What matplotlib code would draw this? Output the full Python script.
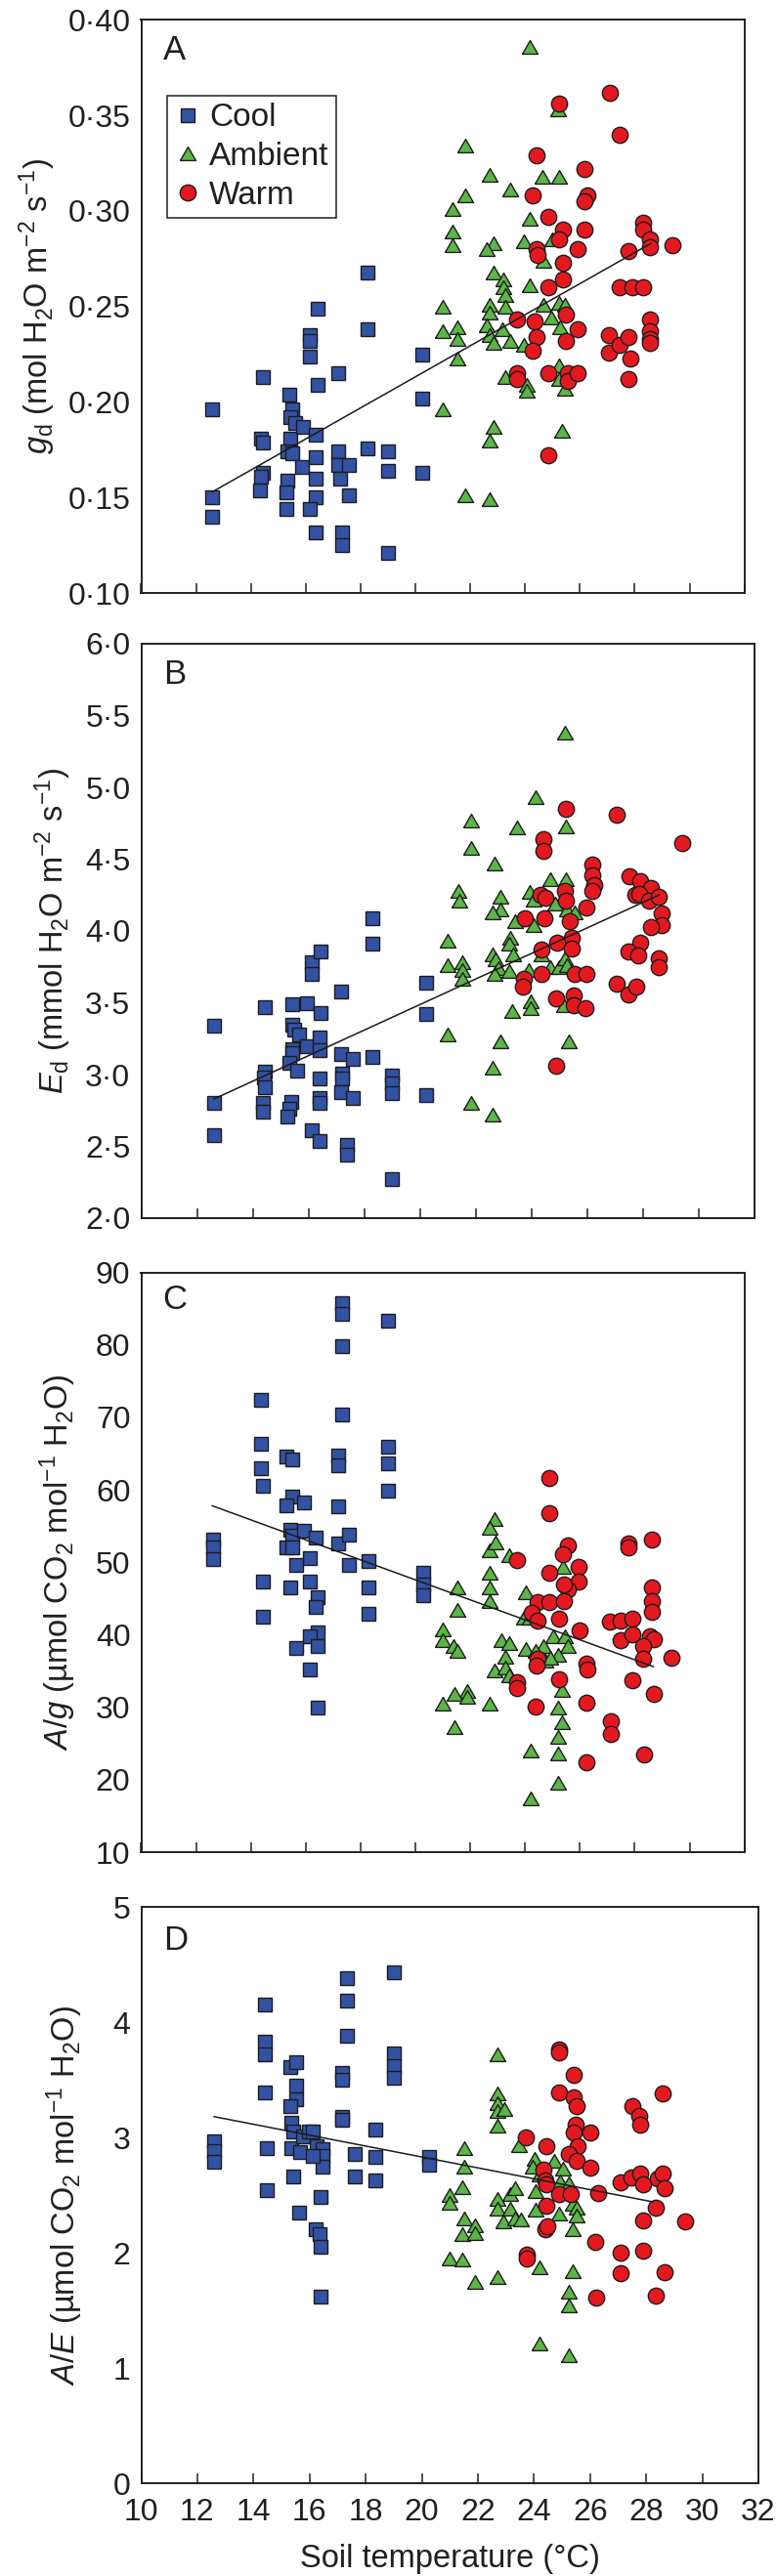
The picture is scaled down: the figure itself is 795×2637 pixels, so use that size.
import matplotlib
matplotlib.use('Agg')
import matplotlib.pyplot as plt
from matplotlib.lines import Line2D
from matplotlib.ticker import FixedLocator, FixedFormatter

plt.rcParams['font.family'] = ['Liberation Sans', 'DejaVu Sans']
plt.rcParams['mathtext.fontset'] = 'custom'
plt.rcParams['mathtext.rm'] = 'Liberation Sans'
plt.rcParams['mathtext.it'] = 'Liberation Sans:italic'
plt.rcParams['mathtext.bf'] = 'Liberation Sans:bold'

# ---------------- data (soil temperature, value) ----------------
a_cool = [(12.59,0.196),(12.59,0.150),(12.59,0.140),(14.43,0.213),(14.38,0.181),(14.43,0.179),(14.43,0.163),(14.38,0.161),(14.34,0.154),
          (15.39,0.204),(15.52,0.196),(15.43,0.192),(15.62,0.189),(15.43,0.181),(15.33,0.174),(15.52,0.173),(15.33,0.159),(15.28,0.153),(15.30,0.144),
          (15.91,0.187),(15.88,0.166),(16.37,0.183),(16.15,0.235),(16.15,0.232),(16.15,0.224),(16.42,0.249),(16.42,0.209),(16.37,0.171),(16.37,0.160),
          (16.37,0.150),(16.15,0.144),(16.37,0.132),(17.18,0.215),(17.18,0.174),(17.18,0.167),(17.27,0.160),(17.56,0.167),(17.56,0.151),(17.32,0.132),
          (17.32,0.125),(18.26,0.268),(18.26,0.238),(18.26,0.176),(19.00,0.174),(19.00,0.164),(19.00,0.121),(20.24,0.225),(20.24,0.202),(20.24,0.163)]
a_amb = [(24.16,0.386),(25.19,0.353),(21.81,0.334),(22.69,0.319),(24.65,0.318),(25.23,0.318),(21.81,0.308),(23.47,0.311),(21.34,0.301),(24.16,0.296),
         (21.34,0.289),(21.34,0.282),(23.96,0.284),(22.84,0.283),(22.60,0.280),(25.00,0.285),(24.68,0.274),(22.84,0.268),(23.20,0.264),(23.20,0.260),
         (24.16,0.261),(23.29,0.256),(23.29,0.250),(22.69,0.251),(22.69,0.247),(20.98,0.250),(24.68,0.251),(25.23,0.252),(25.46,0.251),(24.95,0.244),
         (21.52,0.239),(20.98,0.237),(21.52,0.233),(22.60,0.240),(23.16,0.238),(22.69,0.235),(22.84,0.231),(23.47,0.232),(23.96,0.230),(25.28,0.239),
         (21.52,0.223),(23.29,0.213),(25.23,0.219),(25.23,0.212),(24.07,0.209),(24.07,0.206),(25.46,0.207),(20.98,0.196),(22.84,0.187),(22.69,0.180),
         (25.33,0.185),(21.81,0.151),(22.69,0.149)]
a_warm = [(27.09,0.362),(25.23,0.356),(27.45,0.340),(24.41,0.329),(26.15,0.322),(24.29,0.308),(26.27,0.308),(26.15,0.305),(24.86,0.297),(25.37,0.290),
          (26.15,0.290),(28.32,0.294),(28.32,0.290),(28.57,0.285),(28.57,0.281),(29.39,0.282),(25.23,0.285),(24.41,0.280),(24.47,0.277),(25.91,0.280),
          (27.78,0.279),(25.37,0.273),(25.37,0.264),(24.86,0.260),(27.45,0.260),(27.90,0.260),(28.32,0.260),(23.71,0.243),(24.34,0.242),(25.50,0.246),
          (25.91,0.238),(24.41,0.234),(25.50,0.232),(24.29,0.227),(27.05,0.235),(27.05,0.226),(27.45,0.230),(27.78,0.234),(27.85,0.223),(28.57,0.243),
          (28.57,0.237),(28.57,0.233),(28.57,0.231),(23.71,0.215),(23.71,0.212),(24.86,0.215),(25.55,0.215),(25.55,0.211),(25.91,0.215),(27.78,0.212),
          (24.86,0.172)]
a_fit = [(12.59,0.153),(28.59,0.283)]

b_cool = [(12.61,3.34),(12.61,2.80),(12.61,2.58),(14.44,3.47),(14.44,3.02),(14.40,2.98),(14.44,2.91),(14.35,2.80),(14.35,2.74),(15.42,3.49),
          (15.42,3.35),(15.50,3.31),(15.65,3.28),(15.42,3.18),(15.42,3.15),(15.30,3.08),(15.60,3.03),(15.38,2.81),(15.30,2.76),(15.25,2.71),
          (15.95,3.50),(15.95,3.20),(16.13,3.78),(16.13,3.70),(16.45,3.86),(16.45,3.43),(16.40,3.26),(16.40,3.17),(16.40,2.97),(16.40,2.84),
          (16.40,2.80),(16.13,2.61),(16.40,2.54),(17.16,3.58),(17.16,3.14),(17.20,3.01),(17.20,2.97),(17.16,2.88),(17.59,3.11),(17.59,2.84),
          (17.38,2.51),(17.38,2.44),(18.30,4.09),(18.30,3.91),(18.30,3.12),(19.00,2.99),(19.00,2.94),(19.00,2.87),(19.00,2.27),(20.22,3.64),
          (20.22,3.42),(20.22,2.86)]
b_amb = [(25.20,5.38),(24.13,4.93),(21.85,4.77),(23.47,4.72),(25.23,4.73),(21.85,4.58),(22.67,4.47),(21.37,4.28),(21.42,4.21),(22.88,4.24),
         (22.88,4.15),(22.62,4.13),(24.66,4.36),(25.23,4.36),(23.95,4.27),(24.09,4.22),(24.84,4.19),(25.28,4.15),(25.55,4.13),(24.09,4.04),
         (23.42,4.07),(23.24,3.95),(23.19,3.91),(23.33,3.84),(20.98,3.93),(20.98,3.76),(21.52,3.78),(21.52,3.73),(21.52,3.67),(22.62,3.84),
         (22.71,3.80),(22.80,3.74),(22.67,3.70),(23.20,3.72),(23.91,3.73),(24.36,3.84),(24.66,3.75),(24.98,3.75),(25.20,3.81),(25.28,3.76),
         (23.98,3.51),(23.98,3.46),(23.29,3.44),(25.16,3.48),(20.98,3.28),(22.88,3.23),(25.34,3.23),(22.62,3.05),(21.82,2.80),(22.62,2.72)]
b_warm = [(25.25,4.85),(27.06,4.81),(29.42,4.61),(24.43,4.64),(24.43,4.56),(26.17,4.46),(26.17,4.39),(26.26,4.32),(26.17,4.28),(27.50,4.38),
          (27.91,4.35),(28.30,4.30),(27.74,4.25),(27.87,4.26),(28.22,4.21),(28.57,4.24),(28.66,4.12),(28.66,4.04),(28.30,4.03),(24.31,4.25),
          (24.48,4.23),(25.20,4.28),(25.25,4.21),(25.96,4.16),(23.77,4.09),(24.45,4.09),(25.37,4.07),(25.46,3.95),(24.93,3.92),(24.34,3.87),
          (25.46,3.88),(27.91,3.92),(27.47,3.86),(27.82,3.83),(28.57,3.81),(28.57,3.75),(23.74,3.67),(23.69,3.61),(24.34,3.70),(25.55,3.70),
          (25.96,3.70),(27.06,3.63),(27.47,3.56),(27.77,3.61),(24.89,3.53),(25.51,3.55),(25.51,3.48),(25.94,3.46),(24.89,3.06)]
b_fit = [(12.61,2.83),(28.57,4.25)]

c_cool = [(12.62,53.1),(12.62,52.0),(12.62,50.4),(14.38,72.4),(14.38,66.3),(14.38,63.0),(14.43,60.5),(14.43,47.3),(14.43,42.5),(15.28,64.6),
          (15.52,64.2),(15.52,59.1),(15.93,58.2),(15.30,57.8),(15.42,54.5),(15.52,53.7),(15.93,54.3),(16.15,50.6),(15.30,52.0),(15.52,52.0),
          (16.36,53.4),(15.66,49.7),(15.42,46.5),(16.15,47.4),(16.42,45.2),(16.36,43.9),(16.42,40.4),(16.15,39.8),(16.42,38.4),(15.64,38.2),
          (16.15,35.2),(16.42,30.0),(17.32,85.7),(17.32,84.3),(17.32,79.8),(17.32,70.4),(17.18,64.8),(17.18,63.4),(17.18,57.7),(17.18,52.6),
          (17.56,53.8),(17.56,49.6),(18.28,50.2),(18.28,46.6),(18.28,42.9),(19.00,83.3),(19.00,65.9),(19.00,63.6),(19.00,59.9),(20.27,48.5),
          (20.27,46.9),(20.27,45.5)]
c_amb = [(22.88,56.0),(22.69,54.8),(22.69,51.7),(22.91,52.7),(23.42,51.0),(22.69,48.6),(22.69,46.6),(22.69,44.6),(21.52,46.5),(21.52,43.4),
         (24.01,45.9),(25.37,49.4),(23.96,42.3),(24.16,42.3),(20.98,40.8),(20.98,39.2),(21.39,38.4),(21.52,37.8),(25.01,39.8),(25.46,39.8),
         (23.15,39.2),(23.42,38.8),(24.68,38.4),(25.55,38.4),(24.01,38.1),(24.38,37.8),(25.19,37.2),(23.29,37.0),(24.74,36.4),(24.92,36.8),
         (22.88,35.1),(23.29,35.5),(23.43,34.4),(25.33,32.4),(21.88,32.2),(21.43,31.8),(21.88,31.4),(20.98,30.5),(22.69,30.5),(21.43,27.3),
         (25.22,29.9),(25.33,27.9),(25.22,25.9),(25.22,23.6),(24.20,24.0),(25.22,19.6),(24.20,17.4)]
c_warm = [(24.88,61.6),(24.88,56.8),(23.71,50.3),(25.55,52.3),(25.37,51.1),(27.78,52.6),(27.78,52.1),(28.63,53.1),(24.88,48.5),(25.95,49.3),
          (25.95,47.4),(25.55,46.3),(25.40,46.9),(28.63,46.5),(28.63,44.6),(28.63,43.2),(24.47,44.5),(24.88,44.5),(25.40,44.6),(24.25,43.0),
          (25.24,42.2),(24.47,41.9),(27.09,41.8),(27.50,41.9),(27.90,42.2),(27.50,39.2),(27.90,40.1),(28.57,39.8),(28.68,39.4),(25.97,40.6),
          (28.32,38.4),(28.32,36.7),(29.35,36.8),(24.47,36.7),(24.43,35.8),(26.24,36.0),(26.27,35.2),(23.71,33.5),(23.71,32.7),(25.24,33.8),
          (27.90,33.7),(28.68,31.8),(24.38,30.1),(26.24,30.6),(27.12,28.0),(27.12,26.3),(28.35,23.5),(26.24,22.4)]
c_fit = [(12.59,57.8),(28.68,35.6)]

d_cool = [(12.60,2.97),(12.60,2.88),(12.60,2.79),(14.42,4.15),(14.42,3.83),(14.42,3.72),(14.42,3.39),(14.46,2.91),(14.46,2.54),(15.30,3.61),
          (15.53,3.65),(15.53,3.45),(15.53,3.33),(15.30,3.27),(15.34,3.13),(15.42,3.05),(15.34,2.91),(15.65,2.87),(15.78,3.01),(15.43,2.66),
          (15.62,2.35),(15.96,3.05),(16.13,3.05),(16.24,2.92),(16.45,2.90),(16.45,2.84),(16.45,2.75),(16.13,2.84),(16.22,2.20),(16.36,2.16),
          (16.41,2.48),(16.41,2.05),(16.41,1.62),(17.16,3.56),(17.16,3.50),(17.16,3.18),(17.16,3.15),(17.33,4.38),(17.33,4.19),(17.33,3.88),
          (17.60,2.86),(17.60,2.66),(18.34,3.07),(18.34,2.83),(18.34,2.63),(19.01,4.43),(19.01,3.73),(19.01,3.62),(19.01,3.52),(20.25,2.83),
          (20.25,2.76)]
d_amb = [(22.69,3.72),(22.69,3.38),(22.69,3.30),(22.69,3.23),(22.69,3.10),(22.95,3.25),(21.52,2.91),(21.52,2.75),(21.43,2.57),(21.00,2.50),
         (21.00,2.43),(21.52,2.30),(21.45,2.16),(21.88,2.24),(21.88,2.17),(21.00,1.95),(21.45,1.94),(21.88,1.75),(22.69,2.47),(22.69,2.38),
         (22.90,2.27),(23.16,2.51),(23.34,2.56),(23.16,2.38),(23.34,2.30),(23.52,2.29),(23.48,2.93),(24.01,2.81),(23.96,2.75),(24.05,2.53),
         (24.05,2.37),(24.19,2.68),(24.72,2.80),(25.02,2.73),(24.93,2.62),(25.25,2.60),(24.90,2.34),(25.37,2.42),(25.52,2.39),(25.52,2.32),
         (25.37,2.20),(25.37,1.84),(22.69,1.79),(24.19,1.87),(25.25,1.66),(25.25,1.54),(24.19,1.21),(25.25,1.11)]
d_warm = [(24.90,3.76),(24.90,3.74),(25.41,3.54),(24.90,3.39),(25.41,3.35),(25.52,3.27),(28.59,3.38),(27.49,3.27),(27.76,3.19),(27.80,3.11),
          (25.48,3.11),(25.41,3.04),(26.00,3.04),(23.70,3.00),(25.55,2.92),(24.44,2.92),(25.25,2.86),(25.52,2.80),(26.00,2.74),(24.35,2.72),
          (24.40,2.63),(24.44,2.59),(24.90,2.51),(25.32,2.51),(26.30,2.52),(27.10,2.61),(27.47,2.65),(27.80,2.69),(27.90,2.59),(28.41,2.64),
          (28.59,2.69),(28.65,2.56),(28.34,2.39),(24.44,2.41),(24.40,2.20),(24.49,2.23),(27.90,2.28),(29.40,2.27),(26.17,2.09),(23.73,1.98),
          (23.73,1.95),(27.09,2.00),(27.88,2.02),(27.09,1.82),(28.65,1.83),(26.22,1.61),(28.34,1.63)]
d_fit = [(12.60,3.18),(28.25,2.44)]

x_ticks = [10, 12, 14, 16, 18, 20, 22, 24, 26, 28, 30, 32]
x_ticklabels = ['10', '12', '14', '16', '18', '20', '22', '24', '26', '28', '30', '32']
a_yticks = [0.10, 0.15, 0.20, 0.25, 0.30, 0.35, 0.40]
a_ylabels = ['0·10', '0·15', '0·20', '0·25', '0·30', '0·35', '0·40']
b_yticks = [2.0, 2.5, 3.0, 3.5, 4.0, 4.5, 5.0, 5.5, 6.0]
b_ylabels = ['2·0', '2·5', '3·0', '3·5', '4·0', '4·5', '5·0', '5·5', '6·0']
c_yticks = [10, 20, 30, 40, 50, 60, 70, 80, 90]
c_ylabels = ['10', '20', '30', '40', '50', '60', '70', '80', '90']
d_yticks = [0, 1, 2, 3, 4, 5]
d_ylabels = ['0', '1', '2', '3', '4', '5']
series_names = ['Cool', 'Ambient', 'Warm']

# ---------------- style ----------------
TXT = '#231f20'
EDGE = '#1c1c1c'
COL = {'Cool': '#3352a3', 'Ambient': '#5cb646', 'Warm': '#e4191f'}
TRI = [(-1, -0.866), (1, -0.866), (0, 0.866), (-1, -0.866)]
MK = {'Cool': dict(marker='s', ms=10.3), 'Ambient': dict(marker=TRI, ms=11.5), 'Warm': dict(marker='o', ms=11.8)}

W, H = 795, 2637
fig = plt.figure(figsize=(W / 100, H / 100), dpi=100)


def rect(left, right, top, bottom):
    return [left / W, 1 - bottom / H, (right - left) / W, (bottom - top) / H]


panels = [
    dict(data=[a_cool, a_amb, a_warm], fit=a_fit, yt=a_yticks, yl=a_ylabels, ylim=(0.10, 0.40),
         rect=rect(144.5, 761.7, 20.2, 607.3), letter='A', lety=0.975, labx=38,
         ylabel='$g_\\mathrm{d}$ (mol H$_2$O m$^{-2}$ s$^{-1}$)'),
    dict(data=[b_cool, b_amb, b_warm], fit=b_fit, yt=b_yticks, yl=b_ylabels, ylim=(2.0, 6.0),
         rect=rect(144.5, 772.0, 659.0, 1247.0), letter='B', lety=0.975, labx=54,
         ylabel='$E_\\mathrm{d}$ (mmol H$_2$O m$^{-2}$ s$^{-1}$)'),
    dict(data=[c_cool, c_amb, c_warm], fit=c_fit, yt=c_yticks, yl=c_ylabels, ylim=(10, 90),
         rect=rect(144.5, 761.7, 1302.6, 1896.0), letter='C', lety=0.980, labx=59,
         ylabel='$A/g$ (µmol CO$_2$ mol$^{-1}$ H$_2$O)'),
    dict(data=[d_cool, d_amb, d_warm], fit=d_fit, yt=d_yticks, yl=d_ylabels, ylim=(0, 5),
         rect=rect(144.5, 776.0, 1952.0, 2542.0), letter='D', lety=0.969, labx=66,
         ylabel='$A/E$ (µmol CO$_2$ mol$^{-1}$ H$_2$O)'),
]

for i, p in enumerate(panels):
    ax = fig.add_axes(p['rect'])
    for name, pts in zip(series_names, p['data']):
        xs = [q[0] for q in pts]
        ys = [q[1] for q in pts]
        ax.plot(xs, ys, ls='none', mfc=COL[name], mec=EDGE, mew=1.0, zorder=3, **MK[name])
    ax.plot([q[0] for q in p['fit']], [q[1] for q in p['fit']], color='#1a1a1a', lw=1.1, zorder=4)
    ax.set_xlim(10, 32)
    ax.set_ylim(*p['ylim'])
    ax.xaxis.set_major_locator(FixedLocator(x_ticks))
    ax.yaxis.set_major_locator(FixedLocator(p['yt']))
    ax.yaxis.set_major_formatter(FixedFormatter(p['yl']))
    if i == 3:
        ax.xaxis.set_major_formatter(FixedFormatter(x_ticklabels))
        ax.set_xlabel('Soil temperature (°C)', fontsize=23.5, color=TXT, labelpad=12)
    else:
        ax.set_xticklabels([])
    ax.tick_params(axis='x', direction='in', length=7, width=1.1, color=TXT, labelsize=23,
                   labelcolor=TXT, pad=11)
    ax.tick_params(axis='y', length=0, labelsize=23, labelcolor=TXT, pad=8)
    for sp in ax.spines.values():
        sp.set_linewidth(1.4)
        sp.set_color(TXT)
    ax.set_ylabel(p['ylabel'], fontsize=23.5, color=TXT, va='center')
    wpx = p['rect'][2] * W
    ax.yaxis.set_label_coords((p['labx'] - 144.5) / wpx, 0.5)
    ax.text(0.036, p['lety'], p['letter'], transform=ax.transAxes, fontsize=25,
            color=TXT, ha='left', va='top')
    if i == 0:
        handles = [Line2D([], [], ls='none', mfc=COL[n], mec=EDGE, mew=1.0, **MK[n]) for n in series_names]
        leg = ax.legend(handles, series_names, loc='upper left', bbox_to_anchor=(0.043, 0.8675),
                        borderaxespad=0, fontsize=24, frameon=True, fancybox=False,
                        edgecolor=TXT, framealpha=1, borderpad=0.22, handlelength=0.82,
                        handletextpad=0.25, labelspacing=0.26, labelcolor=TXT)
        leg.get_frame().set_linewidth(1.1)

fig.savefig('out.png', dpi=100)
